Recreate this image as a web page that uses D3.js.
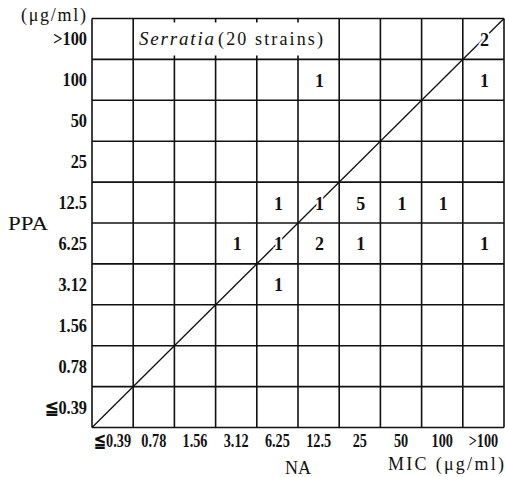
<!DOCTYPE html>
<html>
<head>
<meta charset="utf-8">
<script src="https://cdn.jsdelivr.net/npm/d3@7"></script>
<style>
  body { margin: 0; background: #fff; }
  text { font-family: "Liberation Serif", "Times New Roman", serif; fill: #111; }
</style>
</head>
<body>
<div id="chart"></div>
<script>
// MIC categories, low to high (same for both axes)
var naLabels = ["≦0.39", "0.78", "1.56", "3.12", "6.25", "12.5", "25", "50", "100", ">100"];
var ppaLabels = ["≦0.39", "0.78", "1.56", "3.12", "6.25", "12.5", "25", "50", "100", ">100"];

// number of strains in each cell: NA value, PPA value, count
var cellNA    = [">100", "12.5", ">100", "6.25", "12.5", "25", "50", "100", "3.12", "6.25", "12.5", "25", ">100", "6.25"];
var cellPPA   = [">100", "100", "100", "12.5", "12.5", "12.5", "12.5", "12.5", "6.25", "6.25", "6.25", "6.25", "6.25", "3.12"];
var cellCount = [2, 1, 1, 1, 1, 5, 1, 1, 1, 1, 2, 1, 1, 1];

var width = 505, height = 477;
var svg = d3.select("#chart").append("svg")
    .attr("width", width)
    .attr("height", height);

var x = d3.scaleBand().domain(naLabels).range([92, 504]);
var y = d3.scaleBand().domain(ppaLabels).range([427.5, 18.5]);
var bw = x.bandwidth(), bh = y.bandwidth();
var gLeft = x.range()[0], gRight = x.range()[1];
var gTop = y.range()[1], gBottom = y.range()[0];

var grid = svg.append("g").attr("stroke", "#111").attr("stroke-width", 1.6);

// horizontal lines
var hPos = ppaLabels.map(function(d) { return y(d); }).concat([gBottom]);
hPos.forEach(function(p) {
  grid.append("line").attr("x1", gLeft).attr("x2", gRight).attr("y1", p).attr("y2", p);
});

// vertical lines - inside the title box only short stubs remain
var boxFrom = 1, boxTo = 6;   // title box covers columns 1..5
var vPos = naLabels.map(function(d) { return x(d); }).concat([gRight]);
vPos.forEach(function(p, i) {
  if (i > boxFrom && i < boxTo) {
    grid.append("line").attr("x1", p).attr("x2", p).attr("y1", gTop).attr("y2", gTop + 4);
    grid.append("line").attr("x1", p).attr("x2", p).attr("y1", gTop + bh - 4).attr("y2", gBottom);
  } else {
    grid.append("line").attr("x1", p).attr("x2", p).attr("y1", gTop).attr("y2", gBottom);
  }
});

// diagonal line of equal MIC
svg.append("line")
  .attr("x1", gLeft).attr("y1", gBottom)
  .attr("x2", gRight).attr("y2", gTop)
  .attr("stroke", "#111").attr("stroke-width", 1.3);

// counts
svg.append("g").selectAll("text")
  .data(cellCount)
  .enter().append("text")
  .attr("x", function(d, i) { return x(cellNA[i]) + bw / 2 + 1; })
  .attr("y", function(d, i) { return y(cellPPA[i]) + bh / 2 + 7; })
  .attr("text-anchor", "middle")
  .style("font-size", "18px")
  .style("font-weight", "bold")
  .style("stroke", "#fff").style("stroke-width", 4)
  .style("paint-order", "stroke")
  .text(function(d) { return d; });

// title in the top row
svg.append("text")
  .attr("x", 139).attr("y", gTop + bh / 2 + 6)
  .attr("textLength", 75).attr("lengthAdjust", "spacing")
  .style("font-size", "19px").style("font-style", "italic")
  .text("Serratia");
svg.append("text")
  .attr("x", 218).attr("y", gTop + bh / 2 + 6)
  .attr("textLength", 105).attr("lengthAdjust", "spacing")
  .style("font-size", "18px")
  .text("(20 strains)");

// y axis labels
svg.append("g").selectAll("text")
  .data(ppaLabels)
  .enter().append("text")
  .attr("transform", function(d) {
    return "translate(87," + (y(d) + bh / 2 + 6.5) + ") scale(0.86,1)";
  })
  .attr("text-anchor", "end")
  .style("font-size", "19px")
  .style("font-weight", "bold")
  .text(function(d) { return d; });

// x axis labels (tall, narrow type)
svg.append("g").selectAll("text")
  .data(naLabels)
  .enter().append("text")
  .attr("transform", function(d) {
    return "translate(" + (x(d) + bw / 2) + "," + (gBottom + 19.5) + ") scale(0.75,1)";
  })
  .attr("text-anchor", "middle")
  .style("font-size", "19px")
  .style("font-weight", "bold")
  .text(function(d) { return d; });

// unit and axis names
svg.append("text").attr("x", 21).attr("y", 21)
  .attr("textLength", 65).attr("lengthAdjust", "spacing")
  .style("font-size", "18px").text("(μg/ml)");
svg.append("text").attr("x", 8).attr("y", 230)
  .attr("textLength", 40).attr("lengthAdjust", "spacingAndGlyphs")
  .style("font-size", "18px").text("PPA");
svg.append("text").attr("x", (gLeft + gRight) / 2).attr("y", 474).attr("text-anchor", "middle")
  .style("font-size", "18px").text("NA");
svg.append("text").attr("x", 388).attr("y", 470)
  .attr("textLength", 116).attr("lengthAdjust", "spacing")
  .style("font-size", "18px").text("MIC (μg/ml)");
</script>
</body>
</html>
